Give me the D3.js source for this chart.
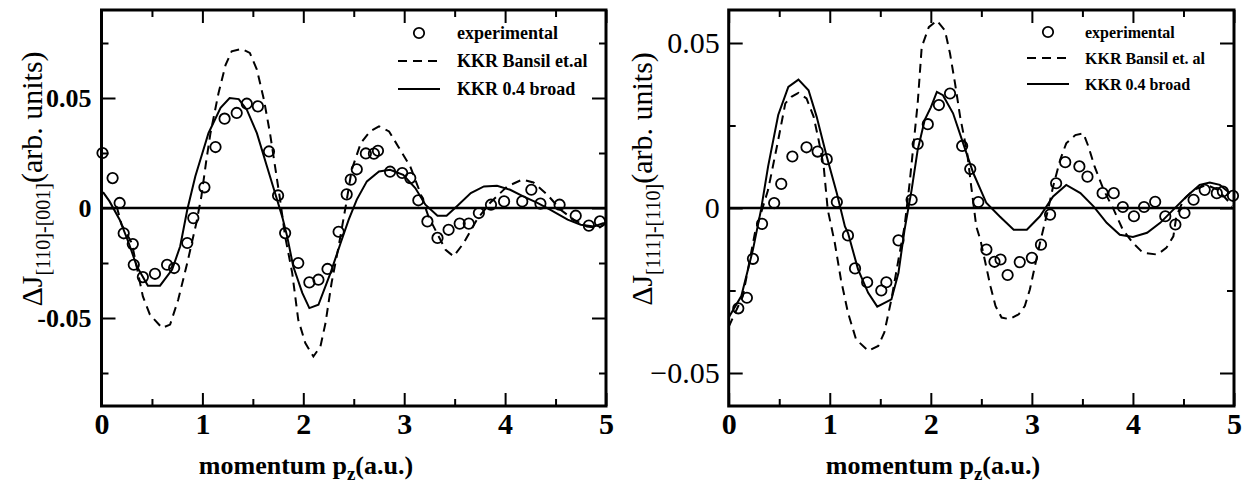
<!DOCTYPE html>
<html>
<head>
<meta charset="utf-8">
<script src="https://cdn.jsdelivr.net/npm/d3@7"></script>
<style>
  body { margin: 0; background: #fff; }
  svg { display: block; }
  svg text { font-family: "Liberation Serif", "Times New Roman", serif; }
  .domain { display: none; }
  .tick line { stroke: #000; stroke-width: 2; }
</style>
</head>
<body>
<svg id="chart" width="1248" height="483"></svg>
<script>
// momentum p_z (a.u.), value ΔJ (arb. units)
var leftExp = [[0.01,0.025],[0.11,0.0136],[0.18,0.0023],[0.22,-0.0115],[0.31,-0.0164],[0.32,-0.0258],[0.41,-0.0314],
  [0.53,-0.0299],[0.65,-0.0258],[0.72,-0.0273],[0.85,-0.0159],[0.91,-0.0046],[1.02,0.0094],[1.13,0.0277],[1.22,0.0406],
  [1.34,0.0432],[1.44,0.0474],[1.55,0.0462],[1.66,0.0257],[1.75,0.0057],[1.82,-0.0114],[1.95,-0.025],[2.06,-0.0338],
  [2.15,-0.0326],[2.24,-0.0277],[2.35,-0.0108],[2.43,0.0062],[2.47,0.0129],[2.53,0.0176],[2.62,0.0248],[2.70,0.0247],
  [2.74,0.026],[2.86,0.0165],[2.98,0.0159],[3.06,0.0136],[3.14,0.0035],[3.23,-0.0061],[3.33,-0.0136],[3.44,-0.0099],
  [3.55,-0.0071],[3.64,-0.0071],[3.74,-0.0023],[3.86,0.0015],[3.99,0.003],[4.17,0.003],[4.26,0.0083],[4.35,0.002],
  [4.54,0.0015],[4.70,-0.0035],[4.83,-0.008],[4.94,-0.0061]];
var leftBansil = [[0.15,0.0007],[0.20,-0.0076],[0.30,-0.0159],[0.41,-0.0402],[0.48,-0.0485],[0.60,-0.0545],[0.68,-0.053],
  [0.76,-0.0417],[0.85,-0.025],[0.94,-0.0068],[0.99,0.0053],[1.04,0.022],[1.08,0.034],[1.16,0.0523],[1.23,0.0651],
  [1.29,0.0712],[1.39,0.0723],[1.47,0.0705],[1.54,0.0629],[1.61,0.0492],[1.67,0.034],[1.72,0.0189],[1.77,0.0038],
  [1.82,-0.0129],[1.89,-0.0295],[1.95,-0.0508],[2.02,-0.0614],[2.10,-0.0675],[2.17,-0.0629],[2.22,-0.0523],[2.28,-0.0341],
  [2.35,-0.0175],[2.42,0.0007],[2.48,0.0174],[2.57,0.0295],[2.66,0.0348],[2.75,0.0371],[2.85,0.0348],[2.94,0.028],
  [3.06,0.0189],[3.16,0.0068],[3.24,-0.0038],[3.41,-0.019],[3.49,-0.022],[3.59,-0.0159],[3.72,-0.0053],[3.85,0.0023],
  [4.02,0.0098],[4.17,0.0129],[4.28,0.0116],[4.42,0.006],[4.55,-0.0008],[4.68,-0.0053],[4.81,-0.0084],[4.93,-0.0091],[5.0,-0.0068]];
var leftBroad = [[0.015,0.0072],[0.08,0.003],[0.18,-0.0053],[0.27,-0.0159],[0.35,-0.0265],[0.46,-0.0353],[0.58,-0.0353],
  [0.70,-0.028],[0.78,-0.0174],[0.85,-0.0008],[0.93,0.0144],[1.01,0.0265],[1.06,0.034],[1.18,0.0455],[1.27,0.05],
  [1.36,0.0495],[1.44,0.0447],[1.54,0.034],[1.64,0.0189],[1.72,0.0068],[1.79,-0.0038],[1.84,-0.0129],[1.90,-0.0265],
  [1.99,-0.0386],[2.06,-0.0455],[2.15,-0.044],[2.27,-0.0295],[2.37,-0.0159],[2.45,-0.0053],[2.53,0.0038],[2.63,0.0121],
  [2.75,0.0166],[2.86,0.0174],[2.99,0.0151],[3.11,0.0091],[3.21,0.0015],[3.33,-0.0035],[3.42,-0.0035],[3.52,0.0007],
  [3.66,0.0068],[3.79,0.0098],[3.92,0.0101],[4.05,0.0083],[4.18,0.0053],[4.32,0.0023],[4.45,-0.0008],[4.62,-0.0053],
  [4.75,-0.0076],[4.88,-0.0084],[4.98,-0.0068]];

var rightExp = [[0.095,-0.0304],[0.18,-0.0272],[0.24,-0.0154],[0.33,-0.0048],[0.45,0.0015],[0.52,0.0073],[0.63,0.0156],
  [0.77,0.0184],[0.88,0.0171],[0.97,0.0148],[1.07,0.0018],[1.18,-0.0083],[1.25,-0.0183],[1.37,-0.0225],[1.51,-0.025],
  [1.56,-0.0225],[1.68,-0.0098],[1.81,0.0025],[1.87,0.0194],[1.97,0.0254],[2.08,0.0312],[2.19,0.0347],[2.31,0.0188],
  [2.39,0.0118],[2.47,0.0018],[2.55,-0.0126],[2.63,-0.0163],[2.69,-0.0156],[2.76,-0.0203],[2.88,-0.0164],[3.00,-0.0151],
  [3.09,-0.0111],[3.18,-0.002],[3.24,0.0075],[3.33,0.0139],[3.47,0.0126],[3.55,0.0095],[3.70,0.0045],[3.81,0.0045],
  [3.90,0.0003],[4.01,-0.0025],[4.11,0.0003],[4.22,0.0019],[4.32,-0.0025],[4.42,-0.005],[4.51,-0.0015],[4.60,0.0025],
  [4.71,0.0055],[4.83,0.0045],[4.89,0.005],[4.99,0.0037]];
var rightBansil = [[0.0,-0.036],[0.14,-0.0267],[0.26,-0.0075],[0.39,0.0055],[0.49,0.0206],[0.56,0.0317],[0.62,0.0337],
  [0.69,0.0349],[0.77,0.0332],[0.84,0.0277],[0.89,0.0206],[0.94,0.0126],[0.98,-0.0005],[1.05,-0.0106],[1.11,-0.0216],
  [1.18,-0.0317],[1.26,-0.0398],[1.38,-0.0433],[1.48,-0.0418],[1.54,-0.0377],[1.61,-0.0277],[1.68,-0.0156],[1.74,-0.0056],
  [1.79,0.0075],[1.84,0.0226],[1.87,0.0317],[1.91,0.0488],[1.98,0.0548],[2.06,0.0568],[2.14,0.0538],[2.19,0.0468],
  [2.24,0.0377],[2.29,0.0277],[2.36,0.0166],[2.40,0.0065],[2.45,-0.0056],[2.49,-0.0096],[2.54,-0.0166],[2.59,-0.0237],
  [2.64,-0.0297],[2.70,-0.0332],[2.78,-0.0337],[2.87,-0.0322],[2.93,-0.0297],[2.98,-0.0247],[3.03,-0.0176],[3.08,-0.0106],
  [3.16,-0.0005],[3.21,0.0065],[3.28,0.0146],[3.34,0.0196],[3.43,0.0221],[3.51,0.0226],[3.56,0.0186],[3.62,0.0126],
  [3.71,0.0055],[3.81,-0.0005],[3.90,-0.0066],[4.00,-0.0106],[4.10,-0.0136],[4.24,-0.0141],[4.33,-0.0121],[4.40,-0.0086],
  [4.43,-0.0025],[4.50,0.0025],[4.60,0.0055],[4.73,0.007],[4.84,0.0055],[4.93,0.0025],[4.98,0.0005]];
var rightBroad = [[0.0,-0.0332],[0.125,-0.0267],[0.24,-0.0126],[0.32,-0.0005],[0.39,0.0126],[0.49,0.0282],[0.59,0.0367],
  [0.69,0.0389],[0.79,0.0357],[0.87,0.0277],[0.97,0.0156],[1.07,0.0045],[1.15,-0.0056],[1.18,-0.0075],[1.28,-0.0186],
  [1.38,-0.0257],[1.47,-0.0299],[1.61,-0.0277],[1.68,-0.0196],[1.74,-0.0066],[1.81,0.0055],[1.87,0.0176],[1.94,0.0267],
  [2.00,0.0305],[2.06,0.0352],[2.12,0.0342],[2.22,0.0287],[2.32,0.0196],[2.42,0.0106],[2.55,0.0015],[2.68,-0.0025],
  [2.82,-0.0066],[2.95,-0.0066],[3.08,-0.0025],[3.21,0.0035],[3.34,0.007],[3.48,0.0045],[3.61,0.0005],[3.74,-0.0045],
  [3.87,-0.0081],[4.00,-0.0088],[4.14,-0.0075],[4.27,-0.0045],[4.40,-0.0005],[4.53,0.0035],[4.66,0.007],[4.76,0.0077],
  [4.86,0.007],[4.96,0.0045]];

var xTicks = [0, 1, 2, 3, 4, 5];
var xMinor = [0.5, 1.5, 2.5, 3.5, 4.5];
var leftYTicks = [-0.05, 0, 0.05];
var leftYLabels = ["-0.05", "0", "0.05"];
var leftYMinor = [-0.075, -0.025, 0.025, 0.075];
var rightYTicks = [-0.05, 0, 0.05];
var rightYLabels = ["\u22120.05", "0", "0.05"];
var rightYMinor = [-0.025, 0.025];
var legendNames = ["experimental", "KKR Bansil et.al", "KKR 0.4 broad"];
var legendNamesRight = ["experimental", "KKR Bansil et. al", "KKR 0.4 broad"];

var svg = d3.select("#chart");
var serif = "'Liberation Serif', 'Times New Roman', serif";

function drawPanel(o) {
  var x = d3.scaleLinear().domain([0, 5]).range([o.left, o.right]);
  var y = d3.scaleLinear().domain(o.yDomain).range([o.bottom, o.top]);
  var g = svg.append("g");

  // ticks: major with labels on bottom/left, mirrored on top/right
  var bx = g.append("g").attr("transform", "translate(0," + o.bottom + ")")
    .call(d3.axisBottom(x).tickValues(xTicks).tickSize(-13).tickFormat(d3.format("d")));
  bx.selectAll("text").attr("y", 28).attr("dy", null).style("font-family", serif)
    .style("font-size", "30px").style("font-weight", "bold").attr("fill", "#000");
  g.append("g").attr("transform", "translate(0," + o.bottom + ")")
    .call(d3.axisBottom(x).tickValues(xMinor).tickSize(-7).tickFormat(""));
  g.append("g").attr("transform", "translate(0," + o.top + ")")
    .call(d3.axisTop(x).tickValues(xTicks).tickSize(-13).tickFormat(""));
  g.append("g").attr("transform", "translate(0," + o.top + ")")
    .call(d3.axisTop(x).tickValues(xMinor).tickSize(-7).tickFormat(""));

  var ly = g.append("g").attr("transform", "translate(" + o.left + ",0)")
    .call(d3.axisLeft(y).tickValues(o.yTicks).tickSize(-14).tickPadding(o.yPad)
      .tickFormat(function(d, i) { return o.yLabels[i]; }));
  ly.selectAll("text").style("font-family", serif).style("font-size", o.yFont + "px")
    .style("font-weight", o.yWeight).attr("fill", "#000");
  g.append("g").attr("transform", "translate(" + o.left + ",0)")
    .call(d3.axisLeft(y).tickValues(o.yMinor).tickSize(-7).tickFormat(""));
  g.append("g").attr("transform", "translate(" + o.right + ",0)")
    .call(d3.axisRight(y).tickValues(o.yTicks).tickSize(-14).tickFormat(""));
  g.append("g").attr("transform", "translate(" + o.right + ",0)")
    .call(d3.axisRight(y).tickValues(o.yMinor).tickSize(-7).tickFormat(""));

  // zero line
  g.append("line").attr("x1", o.left).attr("x2", o.right).attr("y1", y(0)).attr("y2", y(0))
    .attr("stroke", "#000").attr("stroke-width", 2.5);

  var line = d3.line().x(function(d) { return x(d[0]); }).y(function(d) { return y(d[1]); });
  g.append("path").datum(o.bansil).attr("d", line).attr("fill", "none")
    .attr("stroke", "#000").attr("stroke-width", 2).attr("stroke-dasharray", "9,6");
  g.append("path").datum(o.broad).attr("d", line).attr("fill", "none")
    .attr("stroke", "#000").attr("stroke-width", 2);
  g.selectAll("circle.exp").data(o.exp).enter().append("circle").attr("class", "exp")
    .attr("cx", function(d) { return x(d[0]); }).attr("cy", function(d) { return y(d[1]); })
    .attr("r", 5.2).attr("fill", "none").attr("stroke", "#000").attr("stroke-width", 1.8);

  // frame
  g.append("rect").attr("x", o.left).attr("y", o.top).attr("width", o.right - o.left).attr("height", o.bottom - o.top)
    .attr("fill", "none").attr("stroke", "#000").attr("stroke-width", 3);

  // legend
  var lg = g.append("g").style("font-weight", "bold").style("font-size", o.legFont + "px");
  lg.append("circle").attr("cx", o.legX + 21).attr("cy", o.legY).attr("r", 5.2)
    .attr("fill", "none").attr("stroke", "#000").attr("stroke-width", 1.8);
  lg.append("line").attr("x1", o.legX).attr("x2", o.legX + 42).attr("y1", o.legY + o.legStep).attr("y2", o.legY + o.legStep)
    .attr("stroke", "#000").attr("stroke-width", 2).attr("stroke-dasharray", "9,6");
  lg.append("line").attr("x1", o.legX).attr("x2", o.legX + 42).attr("y1", o.legY + 2 * o.legStep).attr("y2", o.legY + 2 * o.legStep)
    .attr("stroke", "#000").attr("stroke-width", 2);
  o.legNames.forEach(function(n, i) {
    lg.append("text").attr("x", o.legTextX).attr("y", o.legY + i * o.legStep + 5.5).text(n);
  });

  // axis titles
  var xt = g.append("text").attr("x", o.xTitleX).attr("y", 474)
    .attr("text-anchor", "middle").style("font-size", "26px").style("font-weight", "bold");
  xt.append("tspan").text("momentum p");
  xt.append("tspan").attr("dy", 6).style("font-size", "19px").text("z");
  xt.append("tspan").attr("dy", -6).text("(a.u.)");

  var yt = g.append("text").attr("transform", "translate(" + o.yTitleX + ",179) rotate(-90)")
    .attr("text-anchor", "middle").style("font-size", "30px");
  yt.append("tspan").text("\u0394J");
  yt.append("tspan").attr("dy", 8).style("font-size", "20px").text(o.sub);
  yt.append("tspan").attr("dy", -8).text("(arb. units)");
}

drawPanel({
  left: 101.5, right: 606, top: 10, bottom: 406, yDomain: [-0.09, 0.09],
  yTicks: leftYTicks, yLabels: leftYLabels, yMinor: leftYMinor, yFont: 26, yWeight: "bold", yPad: 10,
  exp: leftExp, bansil: leftBansil, broad: leftBroad,
  legX: 398, legY: 33, legStep: 28, legTextX: 457, legFont: 18, legNames: legendNames,
  yTitleX: 42, sub: "[110]-[001]", xTitleX: 306
});
drawPanel({
  left: 728.7, right: 1234, top: 10, bottom: 406, yDomain: [-0.06, 0.06],
  yTicks: rightYTicks, yLabels: rightYLabels, yMinor: rightYMinor, yFont: 30, yWeight: "normal", yPad: 9,
  exp: rightExp, bansil: rightBansil, broad: rightBroad,
  legX: 1027, legY: 32, legStep: 26, legTextX: 1085, legFont: 16, legNames: legendNamesRight,
  yTitleX: 652, sub: "[111]-[110]", xTitleX: 933
});
</script>
</body>
</html>
